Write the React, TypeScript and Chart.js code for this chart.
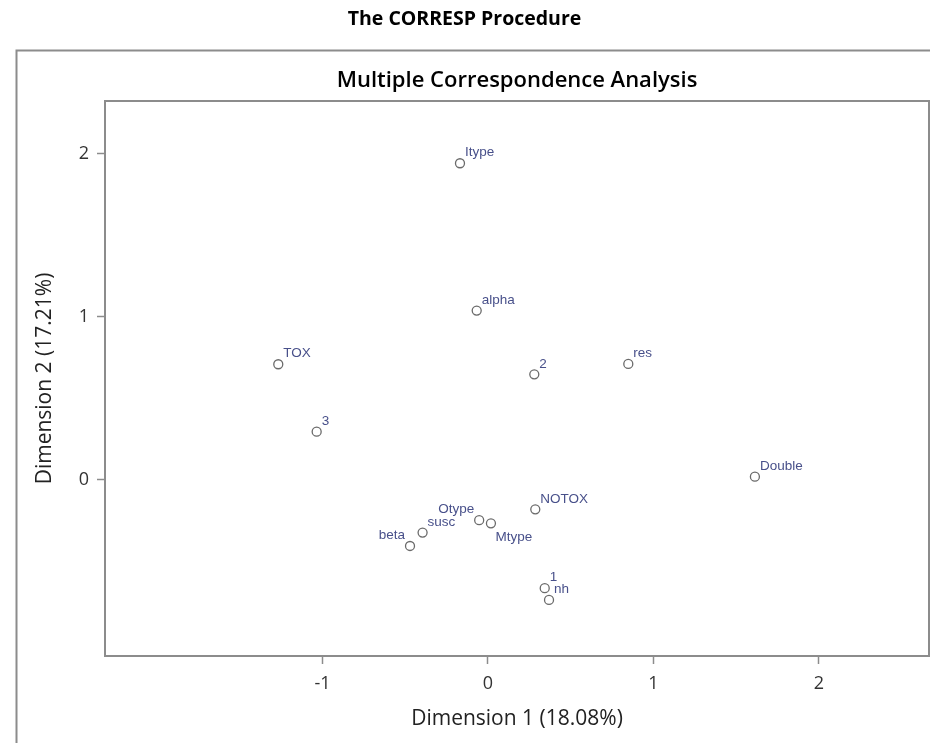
import React, { useEffect, useRef } from "react";
import { Chart, registerables } from "chart.js";

Chart.register(...registerables);

const categories = ["Itype", "alpha", "TOX", "2", "res", "3", "Double", "NOTOX", "Otype", "Mtype", "susc", "beta", "1", "nh"];
const dim1 = [-0.169, -0.068, -1.267, 0.28, 0.848, -1.035, 1.613, 0.286, -0.053, 0.018, -0.395, -0.471, 0.343, 0.369];
const dim2 = [1.943, 1.039, 0.71, 0.648, 0.712, 0.296, 0.02, -0.18, -0.247, -0.266, -0.323, -0.405, -0.664, -0.736];
const xTicks = [-1, 0, 1, 2];
const yTicks = [0, 1, 2];

const FRAME = "#8c8c8c";
const LABEL = "#48508a";

const labelPlacement: Record<string, string> = { Otype: "nw", beta: "nw", Mtype: "se" };

const framePlugin = {
  id: "frames",
  beforeDraw(chart: any) {
    const ctx = chart.ctx;
    ctx.save();
    ctx.fillStyle = "#ffffff";
    ctx.fillRect(0, 0, chart.width, chart.height);
    ctx.strokeStyle = FRAME;
    ctx.lineWidth = 2;
    ctx.strokeRect(16.5, 50.5, 2000, 2000);
    ctx.restore();
  },
  afterDraw(chart: any) {
    const { ctx, chartArea } = chart;
    ctx.save();
    ctx.strokeStyle = FRAME;
    ctx.lineWidth = 2;
    ctx.strokeRect(chartArea.left, chartArea.top, chartArea.right - chartArea.left, chartArea.bottom - chartArea.top);
    ctx.restore();
  },
};

const labelPlugin = {
  id: "pointLabels",
  afterDatasetsDraw(chart: any) {
    const ctx = chart.ctx;
    const meta = chart.getDatasetMeta(0);
    ctx.save();
    ctx.font = '13.5px "Liberation Sans", Arial, sans-serif';
    ctx.fillStyle = LABEL;
    ctx.textBaseline = "middle";
    meta.data.forEach((pt: any, i: number) => {
      const name = categories[i];
      const place = labelPlacement[name] || "ne";
      if (place === "nw") {
        ctx.textAlign = "right";
        ctx.fillText(name, pt.x - 5, pt.y - 11);
      } else if (place === "se") {
        ctx.textAlign = "left";
        ctx.fillText(name, pt.x + 4.5, pt.y + 13.5);
      } else {
        ctx.textAlign = "left";
        ctx.fillText(name, pt.x + 5, pt.y - 10.5);
      }
    });
    ctx.restore();
  },
};

export default function App() {
  const ref = useRef<HTMLCanvasElement | null>(null);

  useEffect(() => {
    if (!ref.current) return;
    const chart = new Chart(ref.current, {
      type: "scatter",
      data: {
        datasets: [
          {
            label: "Points",
            data: dim1.map((x, i) => ({ x, y: dim2[i] })),
            pointStyle: "circle",
            pointRadius: 4.5,
            pointBorderWidth: 1.3,
            pointBorderColor: "#6a6a6a",
            pointBackgroundColor: "rgba(255,255,255,0)",
          },
        ],
      },
      plugins: [framePlugin, labelPlugin],
      options: {
        animation: false,
        responsive: false,
        devicePixelRatio: 1,
        layout: { autoPadding: false, padding: { left: 0, right: 1, top: 0, bottom: 0 } },
        plugins: {
          legend: { display: false },
          tooltip: { enabled: false },
          title: {
            display: true,
            text: "The CORRESP Procedure",
            color: "#000000",
            font: { family: '"Open Sans", sans-serif', size: 19.5, weight: "bold" },
            padding: { top: 7.3, bottom: 0 },
          },
          subtitle: {
            display: true,
            text: "Multiple Correspondence Analysis",
            color: "#000000",
            fullSize: false,
            font: { family: '"Open Sans", sans-serif', size: 22, weight: "600" },
            padding: { top: 37.1, bottom: 6.8 },
          },
        },
        scales: {
          x: {
            type: "linear",
            min: -2.314,
            max: 2.665,
            afterBuildTicks: (s: any) => {
              s.ticks = xTicks.map((v) => ({ value: v }));
            },
            afterFit: (s: any) => {
              s.height = 87;
            },
            grid: { display: true, drawOnChartArea: false, drawTicks: true, tickLength: 8, tickWidth: 1.5, tickColor: FRAME },
            border: { display: false },
            ticks: {
              color: "#333333",
              padding: 8.7,
              font: { family: '"Open Sans", sans-serif', size: 18 },
              callback: (v: any) => String(v),
            },
            title: {
              display: true,
              text: "Dimension 1 (18.08%)",
              color: "#222222",
              font: { family: '"Open Sans", sans-serif', size: 21 },
              padding: { top: 0, bottom: 10.9 },
            },
          },
          y: {
            type: "linear",
            min: -1.08,
            max: 2.325,
            afterBuildTicks: (s: any) => {
              s.ticks = yTicks.map((v) => ({ value: v }));
            },
            afterFit: (s: any) => {
              s.width = 105;
            },
            grid: { display: true, drawOnChartArea: false, drawTicks: true, tickLength: 8, tickWidth: 1.5, tickColor: FRAME },
            border: { display: false },
            ticks: {
              color: "#333333",
              padding: 8,
              font: { family: '"Open Sans", sans-serif', size: 18 },
              callback: (v: any) => String(v),
            },
            title: {
              display: true,
              text: "Dimension 2 (17.21%)",
              color: "#222222",
              font: { family: '"Open Sans", sans-serif', size: 21 },
              padding: { top: 32.9, bottom: 0 },
            },
          },
        },
      },
    } as any);
    return () => chart.destroy();
  }, []);

  return (
    <div style={{ position: "fixed", left: 0, top: 0, width: 930, height: 743, overflow: "hidden", background: "#fff" }}>
      <canvas ref={ref} width={930} height={743} style={{ display: "block" }} />
    </div>
  );
}
